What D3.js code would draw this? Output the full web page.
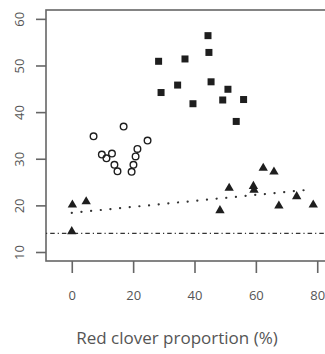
<!DOCTYPE html>
<html><head><meta charset="utf-8">
<script src="https://cdn.jsdelivr.net/npm/d3@7"></script>
<style>body{margin:0;background:#fff}svg{display:block}</style>
</head><body>
<script>
const xTicks = [0, 20, 40, 60, 80];
const yTicks = [10, 20, 30, 40, 50, 60];
const xTitle = "Red clover proportion (%)";

const circleX = [7.1, 16.9, 24.7, 9.8, 11.3, 13.1, 13.9, 14.9, 21.4, 20.8, 20.1, 19.5];
const circleY = [34.8, 36.9, 33.9, 30.9, 30.1, 31.1, 28.7, 27.3, 32.1, 30.5, 28.7, 27.2];

const squareX = [44.4, 44.7, 28.3, 36.9, 34.5, 29.1, 45.4, 50.9, 39.5, 49.2, 56.0, 53.6];
const squareY = [56.4, 52.8, 50.9, 51.4, 45.8, 44.2, 46.5, 44.9, 41.8, 42.6, 42.7, 38.0];

const triX = [0.2, 4.7, 0.0, 51.3, 48.3, 59.2, 59.4, 62.4, 65.9, 67.5, 73.3, 78.7];
const triY = [20.1, 20.8, 14.4, 23.7, 18.9, 24.1, 23.3, 28.0, 27.2, 19.9, 21.9, 20.1];

const trendX = [0, 78];
const trendY = [18.4, 23.4];
const refY = 14.0;

const W = 325, H = 354;
const svg = d3.select("body").append("svg").attr("width", W).attr("height", H);
const x = d3.scaleLinear().domain([-8.4, 88.4]).range([46, 343]);
const y = d3.scaleLinear().domain([8.07, 61.9]).range([261, 10]);
const axisCol = "#666", textCol = "#555", markCol = "#1e1e1e";
const font = "'Open Sans', sans-serif";

// box
svg.append("rect").attr("x", x.range()[0]).attr("y", y.range()[1])
  .attr("width", x.range()[1] - x.range()[0]).attr("height", y.range()[0] - y.range()[1])
  .attr("fill", "none").attr("stroke", axisCol).attr("stroke-width", 1.6);

// x axis
const xa = svg.append("g").attr("transform", `translate(0,${y.range()[0]})`)
  .call(d3.axisBottom(x).tickValues(xTicks).tickSize(12).tickPadding(18).tickFormat(d3.format("d")));
xa.select(".domain").remove();
xa.selectAll("line").attr("stroke", axisCol).attr("stroke-width", 1.6);
xa.selectAll("text").attr("fill", textCol).attr("font-family", font).attr("font-size", 13);

// y axis
const ya = svg.append("g").attr("transform", `translate(${x.range()[0]},0)`)
  .call(d3.axisLeft(y).tickValues(yTicks).tickSize(10).tickFormat(d3.format("d")));
ya.select(".domain").remove();
ya.selectAll("line").attr("stroke", axisCol).attr("stroke-width", 1.6);
ya.selectAll("text").attr("fill", textCol).attr("font-family", font).attr("font-size", 13)
  .attr("x", 0).attr("dy", null).attr("text-anchor", "middle").attr("dominant-baseline", "central")
  .attr("transform", "translate(-27,0) rotate(-90)");

// title
svg.append("text").attr("x", 177).attr("y", 344).attr("text-anchor", "middle")
  .attr("fill", textCol).attr("font-family", font).attr("font-size", 17).text(xTitle);

// reference dash-dot line
svg.append("line").attr("x1", x.range()[0]).attr("x2", x.range()[1])
  .attr("y1", y(refY)).attr("y2", y(refY))
  .attr("stroke", "#333").attr("stroke-width", 1.1).attr("stroke-dasharray", "1.2,3,4.5,3");

// trend dotted line
svg.append("line").attr("x1", x(trendX[0])).attr("x2", x(trendX[1]))
  .attr("y1", y(trendY[0])).attr("y2", y(trendY[1]))
  .attr("stroke", "#333").attr("stroke-width", 2.2).attr("stroke-linecap", "round")
  .attr("stroke-dasharray", "0.1,9.6");

// circles
svg.append("g").selectAll("circle").data(d3.range(circleX.length)).join("circle")
  .attr("cx", i => x(circleX[i])).attr("cy", i => y(circleY[i])).attr("r", 3.3)
  .attr("fill", "none").attr("stroke", markCol).attr("stroke-width", 1.4);

// squares
const s = 7;
svg.append("g").selectAll("rect").data(d3.range(squareX.length)).join("rect")
  .attr("x", i => x(squareX[i]) - s / 2).attr("y", i => y(squareY[i]) - s / 2)
  .attr("width", s).attr("height", s).attr("fill", markCol);

// triangles
const tri = d3.symbol().type(d3.symbolTriangle).size(38);
svg.append("g").selectAll("path").data(d3.range(triX.length)).join("path")
  .attr("d", tri).attr("transform", i => `translate(${x(triX[i])},${y(triY[i])})`)
  .attr("fill", markCol);
</script>
</body></html>
